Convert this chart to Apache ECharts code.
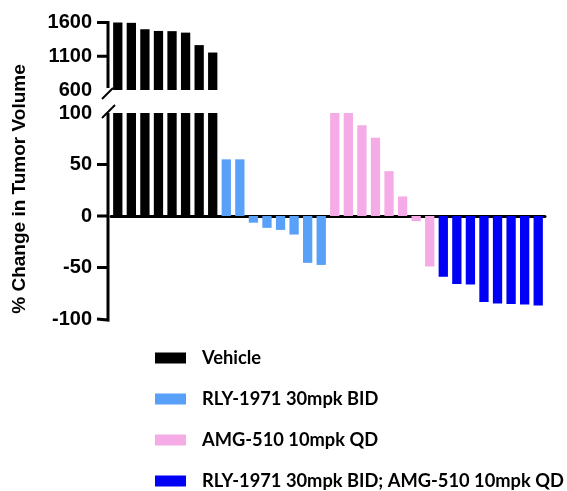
<!DOCTYPE html>
<html>
<head>
<meta charset="utf-8">
<script src="https://cdn.jsdelivr.net/npm/echarts@6/dist/echarts.min.js"></script>
<style>
  html, body { margin: 0; padding: 0; background: #fff; }
  #chart { width: 567px; height: 491px; }
</style>
</head>
<body>
<div id="chart"></div>
<script>
// groups, in bar order
var groupNames = ["Vehicle", "RLY-1971 30mpk BID", "AMG-510 10mpk QD", "RLY-1971 30mpk BID; AMG-510 10mpk QD"];
var groupColors = ["#000000", "#58a0f8", "#f5abe6", "#0000f5"];

// % change in tumor volume per animal
var vehicleVals = [1600, 1595, 1500, 1475, 1472, 1450, 1265, 1155];
var rlyVals = [55, 55, -6.5, -11.5, -13.5, -18, -45.5, -47.5];
var amgVals = [100, 100, 88, 76, 43.5, 19, -5, -49];
var comboVals = [-59, -66, -66.5, -83.5, -85, -85.5, -86, -87];

// axis ticks
var upperTicks = [600, 1100, 1600];
var lowerTicks = [-100, -50, 0, 50, 100];

var groupVals = [vehicleVals, rlyVals, amgVals, comboVals];
var fontAx = "Liberation Sans";

var animals = [];
groupVals.forEach(function (vals) {
  vals.forEach(function () { animals.push(String(animals.length + 1)); });
});

var chart = echarts.init(document.getElementById("chart"));

var series = [];
var offset = 0;
groupVals.forEach(function (vals, g) {
  var lower = animals.map(function () { return "-"; });
  var upper = animals.map(function () { return "-"; });
  var hasUpper = false;
  vals.forEach(function (v, i) {
    lower[offset + i] = Math.min(v, lowerTicks[4]);
    if (v > upperTicks[0]) { upper[offset + i] = v; hasUpper = true; }
  });
  series.push({
    name: groupNames[g], type: "bar", xAxisIndex: 1, yAxisIndex: 1,
    barWidth: 9.3, barGap: "-100%", data: lower, itemStyle: { color: groupColors[g] }
  });
  if (hasUpper) {
    series.push({
      name: groupNames[g], type: "bar", xAxisIndex: 0, yAxisIndex: 0,
      barWidth: 9.3, barGap: "-100%", data: upper, itemStyle: { color: groupColors[g] }
    });
  }
  offset += vals.length;
});

var xCommon = {
  type: "category", data: animals,
  axisLabel: { show: false }, axisTick: { show: false }, splitLine: { show: false }
};
var yLabel = {
  color: "#000", fontFamily: fontAx, fontWeight: "bold", fontSize: 20, margin: 16,
  formatter: function (v) { return String(v); }
};

chart.setOption({
  animation: false,
  grid: [
    { left: 111, width: 434, top: 22.5, height: 67.5 },
    { left: 111, width: 434, top: 113, height: 206 }
  ],
  xAxis: [
    Object.assign({ gridIndex: 0, axisLine: { show: false } }, xCommon),
    Object.assign({ gridIndex: 1, axisLine: { onZero: true, lineStyle: { color: "#000", width: 3 } } }, xCommon)
  ],
  yAxis: [
    {
      gridIndex: 0, type: "value", min: upperTicks[0], max: upperTicks[2], interval: 500, offset: 3,
      splitLine: { show: false }, axisLine: { show: false }, axisTick: { show: false },
      axisLabel: Object.assign({ customValues: upperTicks }, yLabel)
    },
    {
      gridIndex: 1, type: "value", min: lowerTicks[0], max: lowerTicks[4], interval: 50, offset: 3,
      splitLine: { show: false }, axisLine: { show: false }, axisTick: { show: false },
      axisLabel: Object.assign({ customValues: lowerTicks }, yLabel)
    }
  ],
  legend: {
    data: groupNames, orient: "vertical", left: 155, top: 349, padding: 0, height: 300,
    itemWidth: 31, itemHeight: 11, itemGap: 23, icon: "rect",
    textStyle: { color: "#000", fontFamily: "Lato", fontWeight: "bold", fontSize: 18.3, padding: [0, 0, 0, 11] }
  },
  series: series
});

// y axis lines, ticks, break marks + axis title
var axX = 108;
var ink = { stroke: "#000", lineWidth: 2 };
var heavy = { stroke: "#000", lineWidth: 3 };
function py(grid, v) { return chart.convertToPixel({ gridIndex: grid }, [0, v])[1]; }
var deco = [];
var uTop = py(0, upperTicks[2]) - 1, uBot = py(0, upperTicks[0]) - 2;
var lTop = py(1, lowerTicks[4]), lBot = py(1, lowerTicks[0]) + 1;
deco.push({ type: "polyline", z: 100, shape: { points: [[axX - 11, py(0, upperTicks[2])], [axX, py(0, upperTicks[2])], [axX, uBot]] }, style: heavy });
deco.push({ type: "polyline", z: 100, shape: { points: [[axX + 0.01, lTop], [axX, lBot], [axX - 11, py(1, lowerTicks[0])]] }, style: heavy });
deco.push({ type: "polyline", z: 100, shape: { points: [[axX - 11, py(0, upperTicks[1])], [axX, py(0, upperTicks[1]) + 0.01]] }, style: heavy });
lowerTicks.slice(1, 4).forEach(function (t) {
  deco.push({ type: "polyline", z: 100, shape: { points: [[axX - 11, py(1, t)], [axX, py(1, t) + 0.01]] }, style: heavy });
});
var topEnd = py(0, upperTicks[0]);
var lowTop = py(1, lowerTicks[4]);
deco.push({ type: "line", shape: { x1: axX - 6, y1: topEnd + 9, x2: axX + 5, y2: topEnd - 2 }, style: ink });
deco.push({ type: "line", shape: { x1: axX - 6, y1: lowTop + 5, x2: axX + 7, y2: lowTop - 8 }, style: ink });
deco.push({
  type: "text", x: 20, y: 189, rotation: Math.PI / 2,
  style: { text: "% Change in Tumor Volume", fill: "#000", font: "bold 19px Liberation Sans", align: "center", verticalAlign: "middle" }
});
chart.setOption({ graphic: deco });
</script>
</body>
</html>
